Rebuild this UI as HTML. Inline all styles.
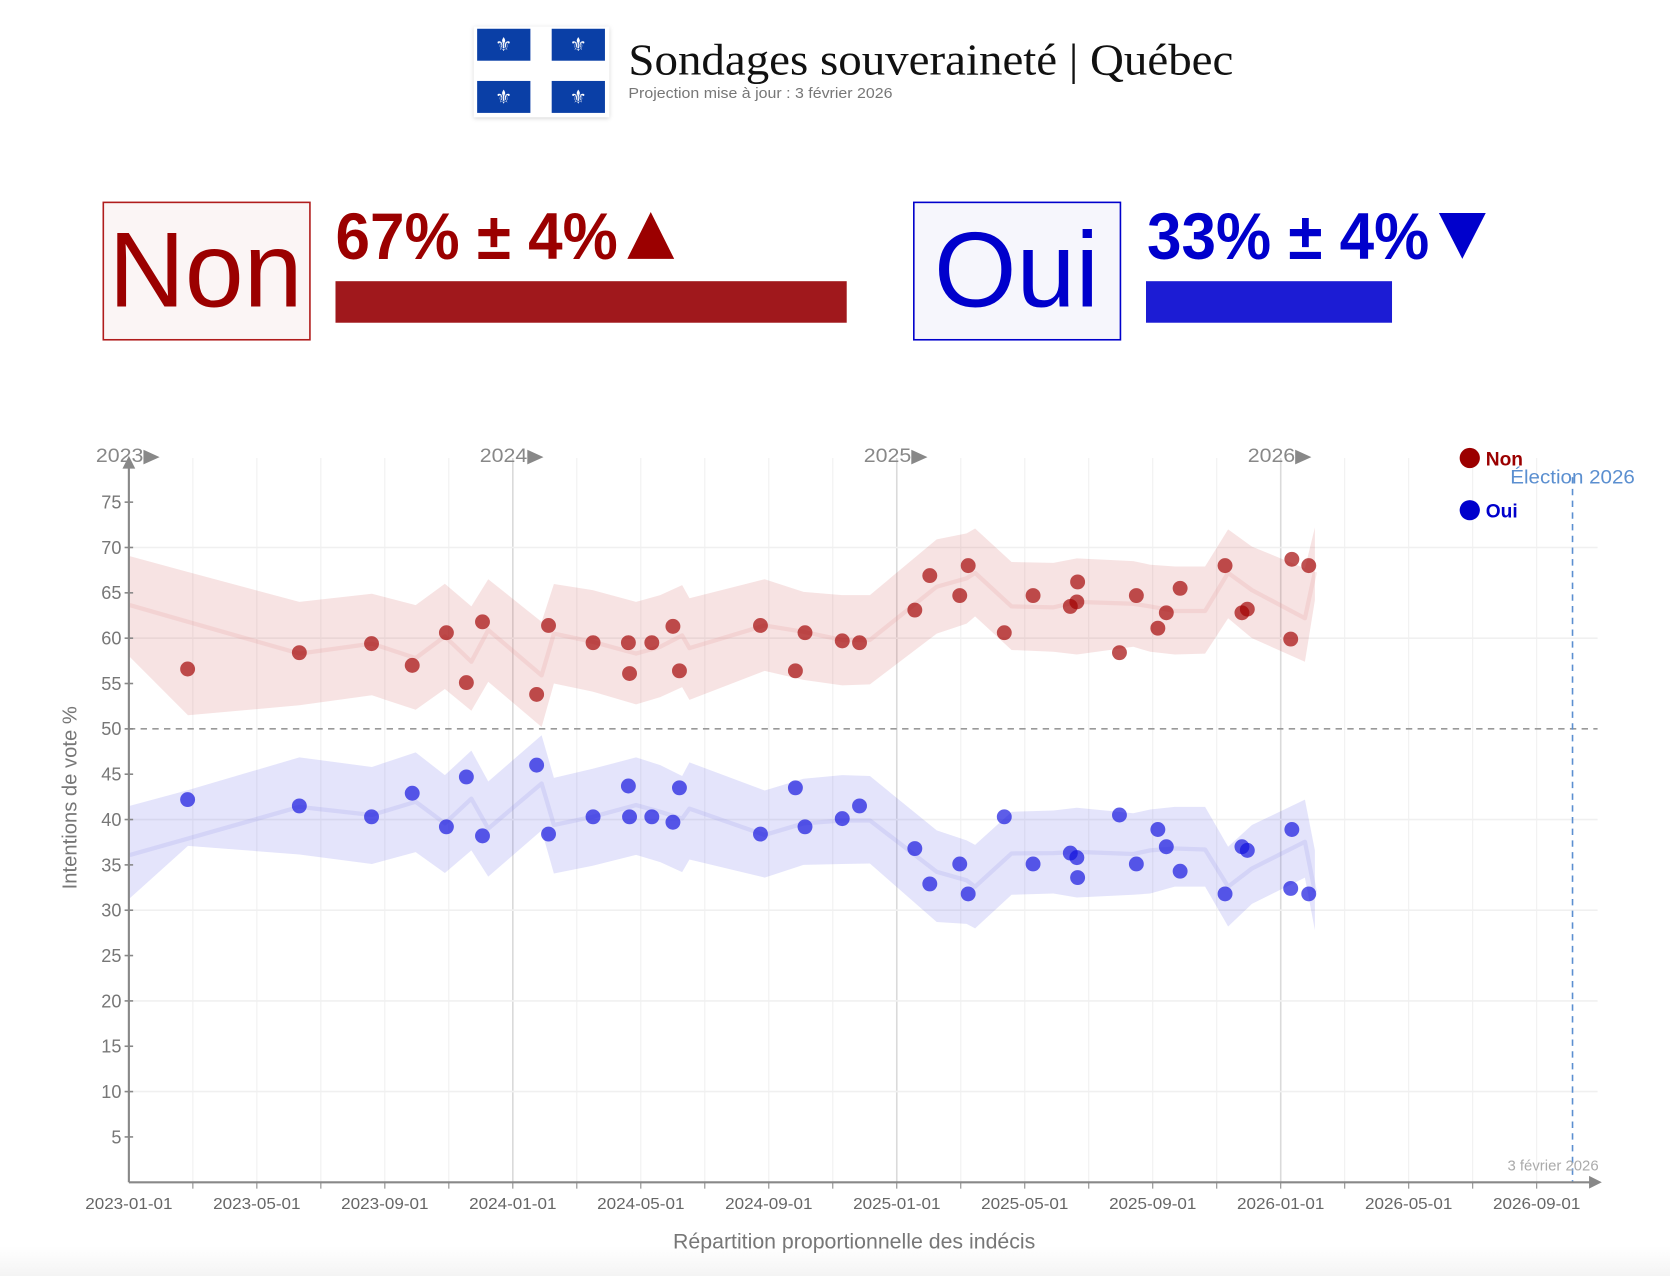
<!DOCTYPE html>
<html><head><meta charset="utf-8"><style>
html,body{margin:0;padding:0;background:#fff;}
svg{display:block;}
text{font-family:"Liberation Sans",sans-serif;}
</style></head><body>
<svg id="root" xmlns="http://www.w3.org/2000/svg" width="1670" height="1276" viewBox="0 0 1568 1198" preserveAspectRatio="none">
<defs>
<linearGradient id="bot" x1="0" y1="0" x2="0" y2="1"><stop offset="0" stop-color="#fff"/><stop offset="1" stop-color="#f4f4f4"/></linearGradient>
<filter id="sh" x="-10%" y="-10%" width="120%" height="130%"><feDropShadow dx="0" dy="1" stdDeviation="2" flood-color="#000" flood-opacity="0.18"/></filter>
</defs>
<rect x="0" y="1170" width="1568" height="28" fill="url(#bot)"/>
<g>
<rect x="445" y="25" width="127" height="85" fill="#fff" filter="url(#sh)"/>
<rect x="448" y="27" width="50" height="30" fill="#0a3fa6"/><rect x="518" y="27" width="50" height="30" fill="#0a3fa6"/>
<rect x="448" y="76" width="50" height="30" fill="#0a3fa6"/><rect x="518" y="76" width="50" height="30" fill="#0a3fa6"/>
<g fill="#fff" font-size="18" text-anchor="middle" style="font-family:'DejaVu Sans',sans-serif"><text x="473" y="48">⚜</text><text x="543" y="48">⚜</text><text x="473" y="97">⚜</text><text x="543" y="97">⚜</text></g>
</g>
<text x="590" y="70" font-size="42" fill="#111" textLength="568" lengthAdjust="spacingAndGlyphs" style="font-family:'Liberation Serif',serif">Sondages souveraineté | Québec</text>
<text x="590" y="92" font-size="14" fill="#777" textLength="248" lengthAdjust="spacingAndGlyphs">Projection mise à jour : 3 février 2026</text>

<g>
<rect x="97" y="190" width="194" height="129" fill="#fbf5f5" stroke="#b01c1c" stroke-width="1.5"/>
<text x="102" y="288" font-size="100" fill="#9b0000" textLength="182" lengthAdjust="spacingAndGlyphs">Non</text>
<text x="315" y="243" font-size="62" font-weight="bold" fill="#9b0000" textLength="265" lengthAdjust="spacingAndGlyphs" style="font-family:'Liberation Sans Narrow','Liberation Sans',sans-serif">67% ± 4%</text>
<polygon points="589,243 611,199 633,243" fill="#9b0000"/>
<rect x="315" y="264" width="480" height="39" fill="#a0181c"/>
</g>
<g>
<rect x="858" y="190" width="194" height="129" fill="#f6f6fc" stroke="#0000cc" stroke-width="1.5"/>
<text x="877" y="288" font-size="100" fill="#0000cc" textLength="155" lengthAdjust="spacingAndGlyphs">Oui</text>
<text x="1077" y="243" font-size="62" font-weight="bold" fill="#0000cc" textLength="265" lengthAdjust="spacingAndGlyphs" style="font-family:'Liberation Sans Narrow','Liberation Sans',sans-serif">33% ± 4%</text>
<polygon points="1351,200 1395,200 1373,243" fill="#0000cc"/>
<rect x="1076" y="264" width="231" height="39" fill="#1c1cd4"/>
</g>
<g id="chart"></g>
</svg>
<script>
// ---- data ----
const trendDates = [2023.002,2023.154,2023.444,2023.633,2023.747,2023.823,2023.892,2023.936,2024.075,2024.107,2024.208,2024.321,2024.384,2024.441,2024.460,2024.656,2024.757,2024.858,2024.930,2025.104,2025.182,2025.204,2025.299,2025.408,2025.469,2025.616,2025.660,2025.724,2025.803,2025.863,2025.925,2026.063,2026.089];
const nonTrend = [63.65,61.8,58.3,59.4,57.8,60.2,57.4,60.9,55.9,60.5,59.6,58.3,59.05,60.3,58.9,61.4,60.7,59.8,59.8,65.67,66.6,67.2,63.5,63.4,64.0,63.8,63.5,63.0,63.0,67.2,65.3,62.2,67.3];
const nonUpper = [69.05,67.3,64.0,64.9,63.65,66.0,63.5,66.5,61.8,65.97,65.3,64.0,64.75,65.85,64.4,66.5,65.1,64.75,64.75,70.9,71.55,72.1,68.4,68.3,68.8,68.5,68.1,67.9,67.9,72.0,70.1,67.7,72.2];
const nonLower = [57.95,51.5,52.6,53.7,52.1,54.4,52.0,55.2,50.2,55.0,54.1,52.7,53.5,54.6,53.2,56.4,55.4,54.8,54.9,60.5,61.6,62.4,58.7,58.5,58.2,59.05,58.5,58.2,58.3,62.2,60.0,57.4,64.2];
const ouiTrend = [36.08,37.9,41.4,40.5,41.96,39.57,42.3,39.0,43.98,39.4,40.3,41.6,40.85,40.1,41.2,38.3,39.57,39.9,39.9,34.24,33.3,32.6,36.26,36.3,36.44,36.2,36.6,36.8,36.7,32.6,34.6,37.55,32.0];
const ouiUpper = [41.5,43.25,46.85,45.8,47.4,44.9,47.6,44.2,49.3,44.6,45.6,46.85,46.0,44.8,46.3,43.2,44.5,44.9,44.8,38.8,37.7,37.2,40.85,41.0,41.3,40.7,41.1,41.4,41.4,37.0,39.4,42.2,36.6];
const ouiLower = [31.3,37.1,36.15,35.1,36.4,34.1,36.6,33.7,38.8,34.05,34.9,36.1,35.3,34.2,35.6,33.6,35.0,35.1,35.15,28.7,28.5,28.0,31.7,31.85,31.4,31.7,31.85,32.6,32.6,28.2,30.7,33.6,27.8];
const pollDates = [2023.153,2023.444,2023.632,2023.738,2023.827,2023.879,2023.921,2024.062,2024.093,2024.209,2024.301,2024.304,2024.362,2024.417,2024.434,2024.645,2024.736,2024.761,2024.858,2024.903,2025.047,2025.086,2025.164,2025.186,2025.280,2025.355,2025.452,2025.469,2025.471,2025.580,2025.624,2025.680,2025.702,2025.738,2025.855,2025.899,2025.913,2026.029,2026.026,2026.073];
const nonPolls = [56.6,58.4,59.4,57.0,60.6,55.1,61.8,53.8,61.4,59.5,59.5,56.1,59.5,61.3,56.4,61.4,56.4,60.6,59.7,59.5,63.1,66.9,64.7,68.0,60.6,64.7,63.5,64.0,66.2,58.4,64.7,61.1,62.8,65.5,68.0,62.8,63.2,68.7,59.9,68.0];
const ouiPolls = [42.2,41.5,40.3,42.9,39.2,44.7,38.2,46.0,38.4,40.3,43.7,40.3,40.3,39.7,43.5,38.4,43.5,39.2,40.1,41.5,36.8,32.9,35.1,31.8,40.3,35.1,36.3,35.8,33.6,40.5,35.1,38.9,37.0,34.3,31.8,37.0,36.6,38.9,32.4,31.8];
const yTicks = [5,10,15,20,25,30,35,40,45,50,55,60,65,70,75];
const xTickLabels = ["2023-01-01","2023-05-01","2023-09-01","2024-01-01","2024-05-01","2024-09-01","2025-01-01","2025-05-01","2025-09-01","2026-01-01","2026-05-01","2026-09-01"];
const yearLabels = [2023,2024,2025,2026];
const electionDate = 2026.76;

// ---- axes ----
const X0=121, YEARPX=360.5, Y0=1110, PXV=8.514;
const xs = t => X0 + (t-2023)*YEARPX;
const ys = v => Y0 - v*PXV;
const NS="http://www.w3.org/2000/svg";
const chart=document.getElementById('chart');
function mk(tag,attrs,parent){const e=document.createElementNS(NS,tag);for(const k in attrs)e.setAttribute(k,attrs[k]);(parent||chart).appendChild(e);return e;}
const dateT = s => {const [y,m]=s.split('-').map(Number);return y+(m-1)/12;};

for(let m=2;m<=44;m+=2){const t=2023+m/12;const x=xs(t);
 const g=mk('line',{x1:x,y1:430,x2:x,y2:Y0,stroke:(m%12===0)?'#dadada':'#f0f0f0','stroke-width':(m%12===0)?1.5:1});
 
 
 const tk=mk('line',{x1:x,y1:Y0,x2:x,y2:Y0+6,stroke:'#888','stroke-width':1});
 
 
}
for(const v of [10,20,30,40,60,70]){const l=mk('line',{x1:X0,y1:ys(v),x2:1500,y2:ys(v),stroke:'#f0f0f0','stroke-width':1.5});
 
 }

function band(up,lo,fill,name){let d='';trendDates.forEach((t,i)=>{d+=(i?'L':'M')+xs(t)+','+ys(up[i]);});
 for(let i=trendDates.length-1;i>=0;i--)d+='L'+xs(trendDates[i])+','+ys(lo[i]);
 const p=mk('path',{d:d+'Z',fill:fill});
 
 }
function trend(vals,col,name){const p=mk('polyline',{points:trendDates.map((t,i)=>xs(t)+','+ys(vals[i])).join(' '),fill:'none',stroke:col,'stroke-width':4,'stroke-linejoin':'round'});
 
 }
band(nonUpper,nonLower,'rgba(200,70,70,0.15)','non-confidence-band');
band(ouiUpper,ouiLower,'rgba(90,90,230,0.16)','oui-confidence-band');
trend(nonTrend,'rgba(230,150,150,0.2)','non-trend-line');
trend(ouiTrend,'rgba(150,150,235,0.2)','oui-trend-line');

const fifty=mk('line',{x1:X0,y1:ys(50),x2:1500,y2:ys(50),stroke:'#999','stroke-width':1.5,'stroke-dasharray':'6,5'});



const ex=xs(electionDate);
const el=mk('line',{x1:ex,y1:448,x2:ex,y2:Y0,stroke:'#5b8fd0','stroke-width':1.5,'stroke-dasharray':'6,5'});


const elt=mk('text',{x:1418,y:454,'font-size':18,fill:'#5b8fd0',textLength:117,lengthAdjust:'spacingAndGlyphs'});elt.textContent='Élection 2026';


const td=mk('text',{x:1501,y:1099,'font-size':14,fill:'#aaa','text-anchor':'end'});td.textContent='3 février 2026';



function dots(vals,col,name){pollDates.forEach((t,i)=>{const c=mk('circle',{cx:xs(t),cy:ys(vals[i]),r:7,fill:col,'fill-opacity':0.68});
 
 });}
dots(nonPolls,'#a00000','non-poll-point');
dots(ouiPolls,'#1010dd','oui-poll-point');

const ya=mk('line',{x1:X0,y1:Y0,x2:X0,y2:438,stroke:'#888','stroke-width':2});


const yah=mk('polygon',{points:`${X0-6},440 ${X0},428 ${X0+6},440`,fill:'#888'});


const xa=mk('line',{x1:X0,y1:Y0,x2:1495,y2:Y0,stroke:'#888','stroke-width':2});


const xah=mk('polygon',{points:`1492,${Y0-6} 1504,${Y0} 1492,${Y0+6}`,fill:'#888'});


yTicks.forEach(v=>{const tk=mk('line',{x1:X0-4,y1:ys(v),x2:X0+4,y2:ys(v),stroke:'#888','stroke-width':1.5});
 
 
 const t=mk('text',{x:X0-7,y:ys(v)+6,'font-size':17,fill:'#777','text-anchor':'end'});t.textContent=v;
 
 });
xTickLabels.forEach(s=>{const t=mk('text',{x:xs(dateT(s)),y:1135,'font-size':14.5,fill:'#666','text-anchor':'middle',textLength:82,lengthAdjust:'spacingAndGlyphs'});t.textContent=s;
 
 });
yearLabels.forEach(y=>{const t=mk('text',{x:xs(y)-31,y:434,'font-size':18,fill:'#888',textLength:60,lengthAdjust:'spacingAndGlyphs'});t.textContent=y+'▶';
 
 });
const yt=mk('text',{x:72,y:749,'font-size':19,fill:'#777','text-anchor':'middle',transform:'rotate(-90 72 749)'});yt.textContent='Intentions de vote %';


const xt=mk('text',{x:802,y:1172,'font-size':20,fill:'#777','text-anchor':'middle'});xt.textContent='Répartition proportionnelle des indécis';



[['Non','#9b0000',430],['Oui','#0000cc',479]].forEach(([n,c,y])=>{
 const g=mk('g',{});
 
 
 mk('circle',{cx:1380,cy:y,r:9.5,fill:c},g);
 const t=mk('text',{x:1395,y:y+7,'font-size':18,'font-weight':'bold',fill:c},g);t.textContent=n;});
</script>
</body></html>
